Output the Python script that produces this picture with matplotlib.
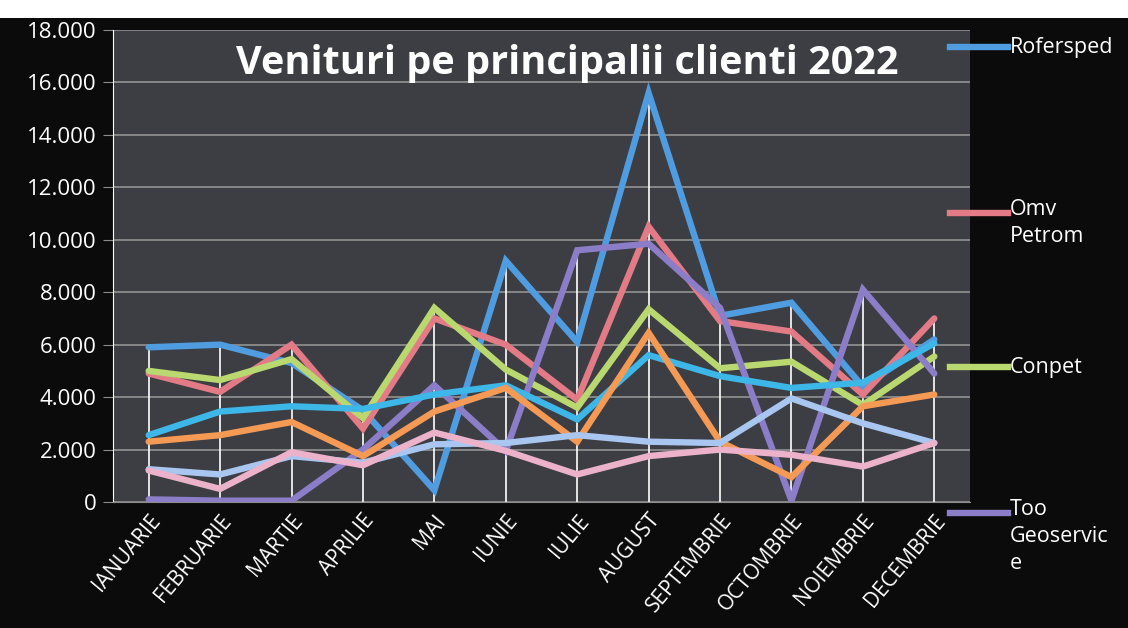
import numpy as np
import matplotlib.pyplot as plt
from matplotlib.lines import Line2D
from matplotlib.patches import Rectangle

# Date
luni = ['IANUARIE', 'FEBRUARIE', 'MARTIE', 'APRILIE', 'MAI', 'IUNIE', 'IULIE',
        'AUGUST', 'SEPTEMBRIE', 'OCTOMBRIE', 'NOIEMBRIE', 'DECEMBRIE']
rofersped = [5900, 6000, 5300, 3500, 450, 9200, 6100, 15600, 7100, 7600, 4400, 6200]
omv_petrom = [4900, 4200, 6000, 2800, 7000, 6000, 3900, 10500, 6900, 6500, 4100, 7000]
conpet = [5000, 4650, 5450, 3200, 7400, 5050, 3600, 7350, 5100, 5350, 3700, 5550]
too_geoservice = [100, 50, 50, 2000, 4450, 1950, 9600, 9850, 7400, 50, 8100, 4900]
client5 = [2550, 3450, 3650, 3550, 4100, 4450, 3150, 5600, 4800, 4350, 4550, 6050]
client6 = [2300, 2550, 3050, 1750, 3450, 4350, 2300, 6450, 2300, 950, 3650, 4100]
client7 = [1250, 1050, 1750, 1500, 2200, 2250, 2550, 2300, 2250, 3950, 3000, 2250]
client8 = [1200, 500, 1900, 1400, 2650, 1950, 1050, 1750, 2000, 1800, 1350, 2250]

serii = [rofersped, omv_petrom, conpet, too_geoservice, client5, client6, client7, client8]
culori = ['#4f9de0', '#e27b86', '#b9d870', '#8c7dc8', '#3db6e8', '#f59a55', '#a9c6f0', '#ecb2c9']
etichete = ['Rofersped', 'Omv\nPetrom', 'Conpet', 'Too\nGeoservic\ne']

fig = plt.figure(figsize=(11.28, 6.28), dpi=100, facecolor='#0b0b0b')
fig.patches.append(Rectangle((0, 1 - 18 / 628), 1, 18 / 628, transform=fig.transFigure,
                             facecolor='white', edgecolor='none', zorder=0))

ax = fig.add_axes([113 / 1128, 1 - 502 / 628, 857 / 1128, 472 / 628])
ax.set_facecolor('#3d3e43')

x = np.arange(len(luni))

# linii verticale (drop lines) pana la maximul fiecarei luni
maxime = np.max(np.array(serii), axis=0)
ax.vlines(x, 0, maxime, color='white', lw=1.2, zorder=2)

for s, c in zip(serii, culori):
    ax.plot(x, s, color=c, lw=4.6, solid_joinstyle='miter', solid_capstyle='round', zorder=3)

ax.set_xlim(-0.5, 11.5)
ax.set_ylim(0, 18000)
ax.set_yticks(np.arange(0, 18001, 2000))
ax.set_yticklabels(['0' if v == 0 else f'{v // 1000}.000' for v in range(0, 18001, 2000)],
                   color='white', fontsize=16, family='Open Sans')
ax.grid(axis='y', color='#8c8c8c', lw=1.3)
ax.set_axisbelow(True)
ax.tick_params(axis='y', length=7, color='#8c8c8c', pad=5)
ax.set_xticks(x)
ax.set_xticklabels(luni, rotation=50, ha='right', rotation_mode='anchor',
                   color='white', fontsize=15, family='Open Sans')
ax.tick_params(axis='x', length=0, pad=6)

for sp in ['top', 'right']:
    ax.spines[sp].set_visible(False)
ax.spines['left'].set_color('white')
ax.spines['bottom'].set_color('#8c8c8c')

ax.text(0.53, 0.93, 'Venituri pe principalii clienti 2022', transform=ax.transAxes,
        ha='center', va='center', color='white', fontsize=28.5, fontweight='bold',
        family='Open Sans')

# legenda (doar primele patru intrari sunt vizibile)
leg_y = [47, 213, 367, 513]
for yy, c, t in zip(leg_y, culori[:4], etichete):
    fy = 1 - yy / 628
    fig.add_artist(Line2D([950 / 1128, 1008 / 1128], [fy, fy], color=c, lw=4.6))
    if '\n' in t:
        fig.text(1010 / 1128, fy + 0.023, t, color='white', fontsize=15.5, family='Open Sans',
                 va='top', ha='left', linespacing=1.4)
    else:
        fig.text(1010 / 1128, fy, t, color='white', fontsize=15.5, family='Open Sans',
                 va='center', ha='left')

fig.savefig('out.png', dpi=100, facecolor=fig.get_facecolor())
